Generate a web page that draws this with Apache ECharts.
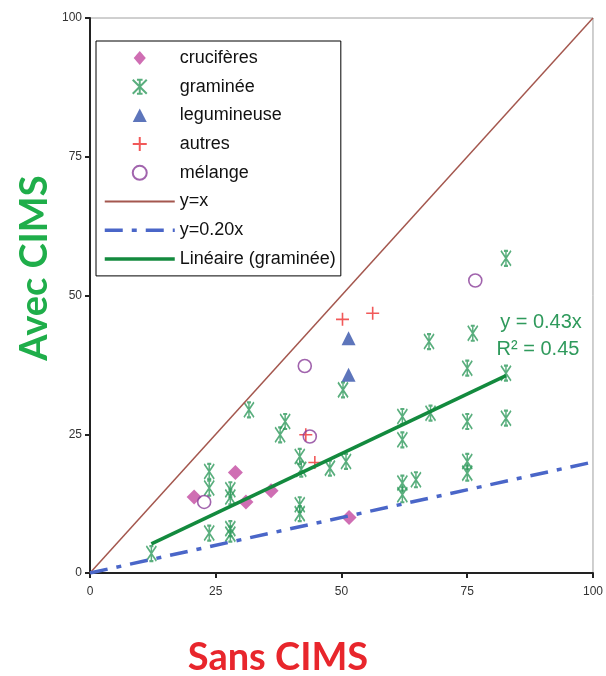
<!DOCTYPE html>
<html>
<head>
<meta charset="utf-8">
<script src="https://cdn.jsdelivr.net/npm/echarts@6/dist/echarts.min.js"></script>
<style>
html, body { margin: 0; padding: 0; background: #fff; }
#main { width: 606px; height: 676px; }
</style>
</head>
<body>
<div id="main"></div>
<script>
// points: [sans CIMS, avec CIMS]
var cruciferes = [[20.7, 13.7], [28.9, 18.1], [31.0, 12.8], [36.0, 14.8], [51.5, 10.0]];
var graminee = [
    [12.2, 3.5], [23.7, 18.3], [23.7, 15.3], [23.7, 7.2], [27.9, 15.0], [27.9, 13.7],
    [27.9, 8.0], [27.9, 7.0], [31.6, 29.4], [37.8, 24.9], [38.8, 27.3], [41.7, 21.0],
    [42.0, 18.7], [41.7, 12.3], [41.7, 10.7], [47.7, 18.9], [50.3, 33.0], [50.9, 20.1],
    [62.1, 28.2], [62.1, 24.0], [62.1, 16.2], [62.1, 14.1], [64.8, 16.8], [67.7, 28.8],
    [67.4, 41.7], [75.0, 36.9], [76.1, 43.2], [75.0, 27.3], [75.0, 20.1], [75.0, 18.0],
    [82.7, 56.7], [82.7, 36.0], [82.7, 27.9]
];
var legumineuse = [[51.4, 42.3], [51.4, 35.7]];
var autres = [[50.2, 45.7], [56.2, 46.8], [42.9, 24.9], [44.7, 19.9]];
var melange = [[22.7, 12.8], [43.7, 24.6], [42.7, 37.3], [76.6, 52.7]];

var identityLine = [[0, 0], [100, 100]];
var lowLine = [[0, 0], [100, 20]];          // y = 0.20x
var trendSlope = 0.43;
var trendRange = [12.2, 82.7];
var trendLine = trendRange.map(function (x) { return [x, +(trendSlope * x).toFixed(2)]; });

var asterisk = 'path://M0 0L10 10M10 0L0 10M5 0L5 10M3 0L7 0M3 10L7 10';
var plus = 'path://M5 0L5 10M0 5L10 5';
var noDot = { color: 'rgba(0,0,0,0)', borderWidth: 0 };
// legend icons padded to the 70x14 legend box so they are not stretched
var diamondIcon = 'path://M0 0M70 14M28.5 7L35 -0.5L41.5 7L35 14.5Z';
var triangleIcon = 'path://M0 0M70 14M35 0L42 13.5L28 13.5Z';

var myChart = echarts.init(document.getElementById('main'));
var option = {
    animation: false,
    backgroundColor: '#fff',
    grid: {
        left: 90, right: 9, top: 18, bottom: 103,
        show: true, borderColor: '#a0a0a0', borderWidth: 1
    },
    legend: {
        orient: 'vertical',
        left: 96, top: 41,
        padding: [8, 5, 8, 7],
        backgroundColor: '#fff',
        borderColor: '#000',
        borderWidth: 1,
        itemWidth: 70,
        itemHeight: 14,
        itemGap: 10.7,
        textStyle: { fontFamily: 'Liberation Sans', fontSize: 18, lineHeight: 18, color: '#111' },
        data: [
            { name: 'crucifères', icon: diamondIcon },
            'graminée',
            { name: 'legumineuse', icon: triangleIcon },
            'autres', 'mélange',
            { name: 'y=x', lineStyle: { width: 2 } },
            { name: 'y=0.20x', lineStyle: { width: 3.5 } },
            { name: 'Linéaire (graminée)', lineStyle: { width: 3.5 } }
        ]
    },
    xAxis: {
        type: 'value', min: 0, max: 100, interval: 25,
        axisLine: { show: true, lineStyle: { color: '#222', width: 2 } },
        axisTick: { show: true, length: 5, lineStyle: { color: '#222', width: 2 } },
        axisLabel: { color: '#333', fontFamily: 'Liberation Sans', fontSize: 12, margin: 13 },
        splitLine: { show: false }
    },
    yAxis: {
        type: 'value', min: 0, max: 100, interval: 25,
        axisLine: { show: true, lineStyle: { color: '#222', width: 2 } },
        axisTick: { show: true, length: 5, lineStyle: { color: '#222', width: 2 } },
        axisLabel: { color: '#333', fontFamily: 'Liberation Sans', fontSize: 12, margin: 8 },
        splitLine: { show: false }
    },
    graphic: [
        {
            type: 'text', x: 35, y: 268, rotation: Math.PI / 2,
            style: {
                text: 'Avec CIMS', align: 'center', verticalAlign: 'middle',
                font: 'bold 38px Lato', fill: '#1fae4a'
            }
        },
        {
            type: 'text', x: 278, y: 658,
            style: {
                text: 'Sans CIMS', align: 'center', verticalAlign: 'middle',
                font: 'bold 38px Lato', fill: '#e8262c'
            }
        },
        {
            type: 'text', x: 541, y: 322,
            style: {
                text: 'y = 0.43x', align: 'center', verticalAlign: 'middle',
                font: '20px Liberation Sans', fill: '#2f9a5c'
            }
        },
        {
            type: 'text', x: 538, y: 349,
            style: {
                text: 'R² = 0.45', align: 'center', verticalAlign: 'middle',
                font: '20px Liberation Sans', fill: '#2f9a5c'
            }
        }
    ],
    series: [
        {
            name: 'y=x', type: 'line', data: identityLine, symbol: 'none',
            lineStyle: { color: '#a4574e', width: 1.5 }, itemStyle: noDot
        },
        {
            name: 'y=0.20x', type: 'line', data: lowLine, symbol: 'none',
            lineStyle: { color: '#4a66c8', width: 3.5, type: [18, 9, 5, 9] }, itemStyle: noDot
        },
        {
            name: 'Linéaire (graminée)', type: 'line', data: trendLine, symbol: 'none',
            lineStyle: { color: '#138a3e', width: 3.5 }, itemStyle: noDot
        },
        {
            name: 'graminée', type: 'scatter', data: graminee, symbol: asterisk, symbolSize: [10, 15],
            itemStyle: { color: 'rgba(0,0,0,0)', borderColor: '#2f9a5c', borderWidth: 1.8 }
        },
        {
            name: 'crucifères', type: 'scatter', data: cruciferes, symbol: 'diamond', symbolSize: 15,
            itemStyle: { color: '#c34aa0' }
        },
        {
            name: 'legumineuse', type: 'scatter', data: legumineuse, symbol: 'triangle', symbolSize: 14,
            itemStyle: { color: '#3552aa' }
        },
        {
            name: 'autres', type: 'scatter', data: autres, symbol: plus, symbolSize: 13,
            itemStyle: { color: 'rgba(0,0,0,0)', borderColor: '#ee3030', borderWidth: 1.6 }
        },
        {
            name: 'mélange', type: 'scatter', data: melange, symbol: 'circle', symbolSize: 13,
            itemStyle: { color: 'rgba(0,0,0,0)', borderColor: '#8a3d98', borderWidth: 1.6 }
        }
    ]
};
myChart.setOption(option);
</script>
</body>
</html>
